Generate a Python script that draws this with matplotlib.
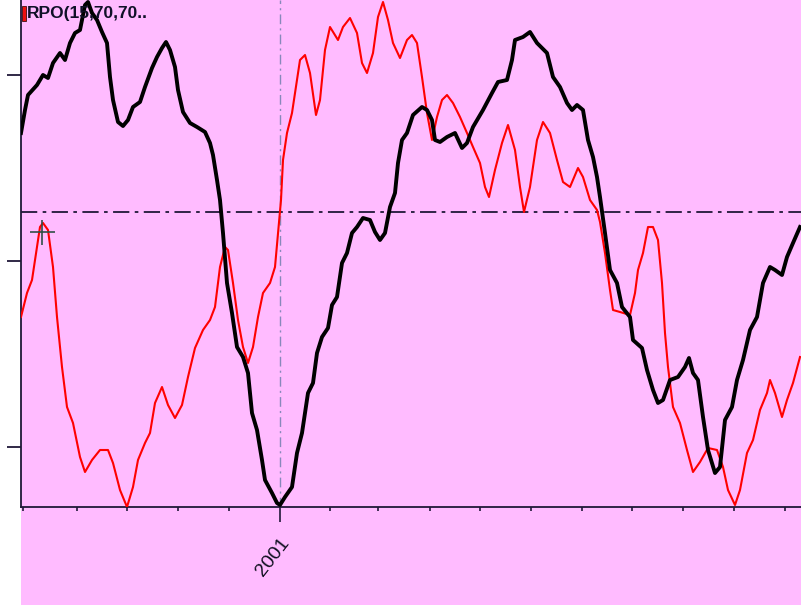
import matplotlib
matplotlib.use("Agg")
import matplotlib.pyplot as plt
from matplotlib.patches import Rectangle

# bar index / oscillator value
black_x = [0, 4, 7, 16, 22, 27, 32, 39, 44, 49, 54, 59, 64, 67, 71, 76, 81, 86, 89, 92,
           97, 102, 107, 112, 119, 124, 131, 136, 141, 145, 149, 154, 157, 162, 169, 176,
           184, 189, 192, 196, 199, 202, 206, 211, 216, 222, 227, 231, 236, 241, 244, 251,
           256, 259, 264, 271, 276, 281, 287, 292, 296, 301, 307, 311, 316, 321, 326, 331,
           336, 342, 349, 354, 359, 364, 369, 374, 377, 381, 386, 392, 401, 406, 411, 414,
           419, 426, 434, 441, 446, 452, 462, 471, 477, 486, 491, 494, 502, 509, 516, 526,
           532, 539, 546, 551, 556, 562, 567, 572, 576, 579, 584, 589, 596, 601, 609, 612,
           621, 626, 632, 637, 642, 649, 657, 664, 668, 672, 677, 682, 687, 694, 699, 704,
           711, 716, 722, 729, 736, 742, 749, 754, 761, 766, 772, 779]
black_y = [374, 397, 412, 422, 432, 429, 444, 454, 447, 464, 474, 477, 502, 505, 494, 487,
           475, 464, 430, 407, 385, 381, 387, 400, 405, 420, 439, 450, 459, 465, 457, 440,
           417, 395, 384, 380, 375, 364, 352, 327, 307, 274, 224, 194, 160, 150, 134, 94,
           77, 47, 27, 14, 4, 2, 10, 20, 54, 74, 114, 124, 154, 170, 179, 202, 210, 244,
           254, 274, 280, 289, 287, 275, 267, 274, 300, 314, 344, 367, 374, 392, 400, 397,
           387, 367, 365, 370, 374, 359, 364, 380, 397, 414, 425, 427, 447, 467, 470, 475,
           464, 454, 430, 420, 404, 397, 402, 397, 367, 350, 330, 310, 274, 237, 224, 200,
           190, 167, 159, 137, 117, 104, 107, 127, 130, 140, 149, 134, 127, 90, 57, 34,
           40, 87, 100, 127, 147, 177, 190, 224, 240, 237, 232, 250, 264, 280]

red_x = [0, 6, 11, 16, 19, 22, 27, 32, 36, 41, 46, 52, 59, 64, 71, 79, 87, 92, 99, 106,
         112, 117, 124, 129, 134, 141, 147, 154, 161, 167, 174, 182, 189, 194, 199, 204,
         207, 212, 217, 222, 227, 232, 237, 242, 249, 254, 257, 260, 262, 266, 271, 276,
         279, 284, 289, 295, 299, 304, 309, 317, 322, 329, 336, 341, 346, 352, 357, 362,
         367, 372, 379, 386, 391, 396, 401, 406, 411, 416, 421, 426, 432, 439, 446, 452,
         459, 464, 468, 474, 481, 487, 494, 499, 503, 509, 516, 522, 529, 536, 542, 549,
         557, 562, 569, 576, 579, 584, 589, 592, 599, 609, 614, 617, 622, 627, 632, 637,
         641, 644, 647, 652, 659, 666, 672, 679, 687, 696, 702, 707, 714, 719, 726, 732,
         739, 746, 749, 754, 761, 766, 772, 779]
red_y = [190, 214, 227, 260, 280, 284, 277, 240, 190, 140, 100, 84, 50, 35, 47, 57, 57, 44,
         17, 0, 20, 47, 64, 74, 104, 120, 102, 89, 102, 130, 159, 177, 187, 200, 240, 260,
         257, 224, 187, 160, 144, 160, 190, 214, 224, 240, 274, 307, 347, 374, 394, 427,
         447, 452, 434, 392, 407, 457, 480, 467, 480, 489, 474, 444, 434, 454, 490, 505,
         487, 464, 449, 467, 472, 464, 430, 394, 367, 390, 407, 412, 404, 390, 374, 360,
         344, 320, 310, 337, 364, 382, 357, 320, 295, 320, 367, 385, 374, 347, 325, 320,
         339, 330, 307, 297, 285, 254, 217, 197, 195, 192, 214, 237, 254, 280, 280, 267,
         224, 174, 140, 100, 84, 57, 35, 45, 59, 57, 40, 17, 2, 17, 54, 67, 97, 114, 127,
         114, 90, 107, 124, 150]

x_ticks = [2, 56, 106, 157, 208, 259, 309, 357, 409, 459, 510, 561, 611, 662, 713, 764]
x_tick_labels = ["", "", "", "", "", "2001", "", "", "", "", "", "", "", "", "", ""]
y_ticks = [60, 246, 432]
zero_level = 295
year_mark = 259
cursor_x, cursor_y = 21, 275
title = "RPO(15,70,70.."

pink = "#FFBBFF"
axis_col = "#201838"

fig = plt.figure(figsize=(8.01, 6.05), dpi=100)
fig.patch.set_facecolor("white")
# pink panel to the right of the thin white strip
fig.patches.append(Rectangle((21 / 801, 0), 1 - 21 / 801, 1 - 2 / 605,
                             transform=fig.transFigure, facecolor=pink,
                             edgecolor="none", zorder=-5))

ax = fig.add_axes([21 / 801, 98 / 605, 1 - 21 / 801, 1 - 98 / 605])
ax.set_zorder(1)
ax.set_facecolor(pink)
ax.set_xlim(0, 780)
ax.set_ylim(0, 507)

ax.axhline(zero_level, color=axis_col, lw=1.3, dashes=(9, 3, 2, 3), zorder=2)
ax.axvline(year_mark, color="#8888BB", lw=1.0, dashes=(7, 3, 1.5, 3), zorder=1)

ax.plot(red_x, red_y, color="#FF0000", lw=1.5, zorder=3)
ax.plot(black_x, black_y, color="black", lw=2.8, zorder=4)
ax.plot([cursor_x], [cursor_y], marker="+", ms=18, mew=1.2, color="#305048", zorder=5)

for side in ("top", "right"):
    ax.spines[side].set_visible(False)
for side in ("left", "bottom"):
    ax.spines[side].set_color(axis_col)
    ax.spines[side].set_linewidth(1.3)

ax.set_yticks(y_ticks)
ax.set_yticklabels([])
ax.tick_params(axis="y", direction="out", length=10, width=1.3, color=axis_col)

ax.set_xticks(x_ticks)
ax.set_xticklabels(x_tick_labels, rotation=52, ha="right", va="top",
                   rotation_mode="anchor", fontsize=14, family="Liberation Sans",
                   color="#101020")
ax.tick_params(axis="x", direction="out", length=3, width=1.2, color=axis_col, pad=17)
yr = ax.xaxis.get_major_ticks()[x_tick_labels.index("2001")]
yr.tick1line.set_color("#FF2020")
yr.tick1line.set_markersize(11)

ax.text(0.008, 0.988, title, transform=ax.transAxes, ha="left", va="top",
        fontsize=12.5, fontweight="bold", family="Liberation Sans", color="#101028",
        zorder=6)
ax.add_patch(Rectangle((0.001, 0.958), 0.006, 0.03, transform=ax.transAxes,
                       facecolor="#EE1010", edgecolor="#401010", lw=0.6, zorder=6))

fig.savefig("out.png", dpi=100, facecolor=fig.get_facecolor())
